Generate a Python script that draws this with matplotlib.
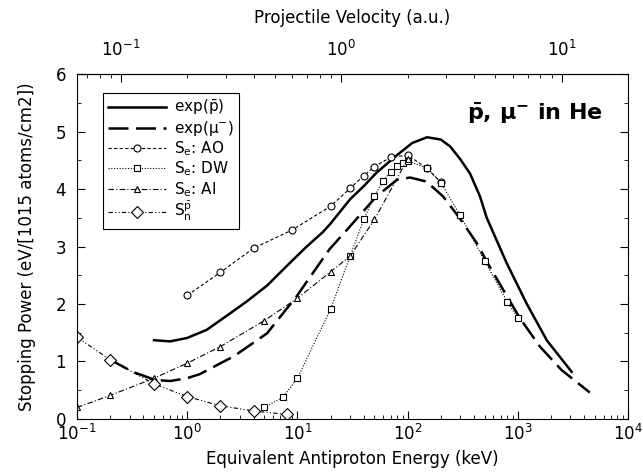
import numpy as np
import matplotlib
matplotlib.use("Agg")
import matplotlib.pyplot as plt

# experimental curves (keV, eV/[1e15 atoms/cm2])
e_pbar = [0.5, 0.7, 1.0, 1.5, 2.3, 3.5, 5.3, 8.6, 12, 17, 20, 30, 40, 52, 79, 110, 150, 200,
          243, 300, 368, 454, 522, 793, 1200, 1830, 3080]
s_pbar = [1.37, 1.35, 1.41, 1.55, 1.80, 2.05, 2.32, 2.72, 2.99, 3.25, 3.40, 3.82, 4.05, 4.28,
          4.58, 4.80, 4.90, 4.86, 4.74, 4.52, 4.27, 3.87, 3.50, 2.71, 2.01, 1.37, 0.82]

e_mu = [0.2, 0.32, 0.51, 0.7, 1.0, 1.3, 2.3, 2.6, 5.3, 9.8, 19.5, 30, 52, 80, 105, 148, 210,
        300, 424, 522, 700, 1047, 1585, 2500, 4500]
s_mu = [1.03, 0.82, 0.68, 0.66, 0.71, 0.78, 1.03, 1.08, 1.49, 2.13, 2.95, 3.35, 3.87, 4.16,
        4.20, 4.13, 3.87, 3.48, 3.06, 2.74, 2.32, 1.75, 1.26, 0.85, 0.46]

# theory
e_ao = [1, 2, 4, 9, 20, 30, 40, 50, 70, 100, 150, 200]
s_ao = [2.15, 2.55, 2.97, 3.29, 3.70, 4.01, 4.23, 4.39, 4.55, 4.59, 4.36, 4.12]

e_dw = [5, 7.4, 10, 20, 30, 40, 50, 60, 70, 80, 90, 100, 150, 200, 300, 500, 800, 1000]
s_dw = [0.20, 0.38, 0.71, 1.91, 2.83, 3.47, 3.88, 4.14, 4.30, 4.40, 4.46, 4.49, 4.36, 4.11,
        3.54, 2.75, 2.04, 1.76]

e_ai = [0.1, 0.2, 0.5, 1, 2, 5, 10, 20, 30, 50, 100]
s_ai = [0.20, 0.41, 0.71, 0.97, 1.26, 1.71, 2.10, 2.56, 2.83, 3.47, 4.52]

e_sn = [0.1, 0.2, 0.5, 1, 2, 4, 8]
s_sn = [1.42, 1.03, 0.61, 0.39, 0.23, 0.14, 0.08]

vel_ticks = [0.1, 1, 10]

plt.rcParams['font.size'] = 12
plt.rcParams['mathtext.default'] = 'regular'

fig = plt.figure(figsize=(6.43, 4.75), dpi=100)
ax = fig.add_axes([0.1198, 0.1179, 0.8569, 0.7263])

ax.plot(e_pbar, s_pbar, color='k', lw=1.8, ls='-', label=r'exp($\bar{p}$)')
ax.plot(e_mu, s_mu, color='k', lw=1.8, ls=(0, (8, 3)), label=r'exp($\mu^{-}$)')
ax.plot(e_ao, s_ao, color='k', lw=0.8, ls=(0, (3, 2)), marker='o', ms=5, mfc='white',
        mew=0.8, label=r'S$_e$: AO')
ax.plot(e_dw, s_dw, color='k', lw=0.8, ls=(0, (1, 1.5)), marker='s', ms=5, mfc='white',
        mew=0.8, label=r'S$_e$: DW')
ax.plot(e_ai, s_ai, color='k', lw=0.8, ls=(0, (5, 2, 1, 2)), marker='^', ms=5, mfc='white',
        mew=0.8, label=r'S$_e$: AI')
ax.plot(e_sn, s_sn, color='k', lw=0.8, ls=(0, (4, 2, 1, 2, 1, 2)), marker='D', ms=6,
        mfc='white', mew=0.8, label=r'S$_n^{\bar{p}}$')

ax.set_xscale('log')
ax.set_xlim(0.1, 1e4)
ax.set_ylim(0, 6)
ax.set_yticks(np.arange(0, 7, 1))
ax.set_yticks(np.arange(0, 6, 0.5), minor=True)
ax.tick_params(which='both', direction='in', right=True)
ax.tick_params(which='major', length=6)
ax.tick_params(which='minor', length=3)
ax.tick_params(axis='y', pad=8)
ax.set_xlabel('Equivalent Antiproton Energy (keV)')
ax.set_ylabel('Stopping Power (eV/[1015 atoms/cm2])', labelpad=14)

sec = ax.secondary_xaxis('top', functions=(lambda e: np.sqrt(np.clip(e, 1e-12, None) / 25.0),
                                           lambda v: 25.0 * v ** 2))
sec.set_xticks(vel_ticks)
sec.tick_params(which='both', direction='in')
sec.tick_params(which='major', length=6, pad=10)
sec.tick_params(which='minor', length=3)
sec.set_xlabel('Projectile Velocity (a.u.)', labelpad=12)

leg = ax.legend(loc='upper left', bbox_to_anchor=(0.047, 0.945), borderaxespad=0,
                fancybox=False, edgecolor='k', framealpha=1, handlelength=3.8,
                borderpad=0.35, labelspacing=0.1, handletextpad=0.5, fontsize=11)
leg.get_frame().set_linewidth(0.8)

ax.text(0.955, 0.885, r'$\bf{\bar{p}}$, $\bf{\mu^{-}}$ in He', transform=ax.transAxes,
        ha='right', va='center', fontsize=16, fontweight='bold')

fig.savefig('out.png', dpi=100)
